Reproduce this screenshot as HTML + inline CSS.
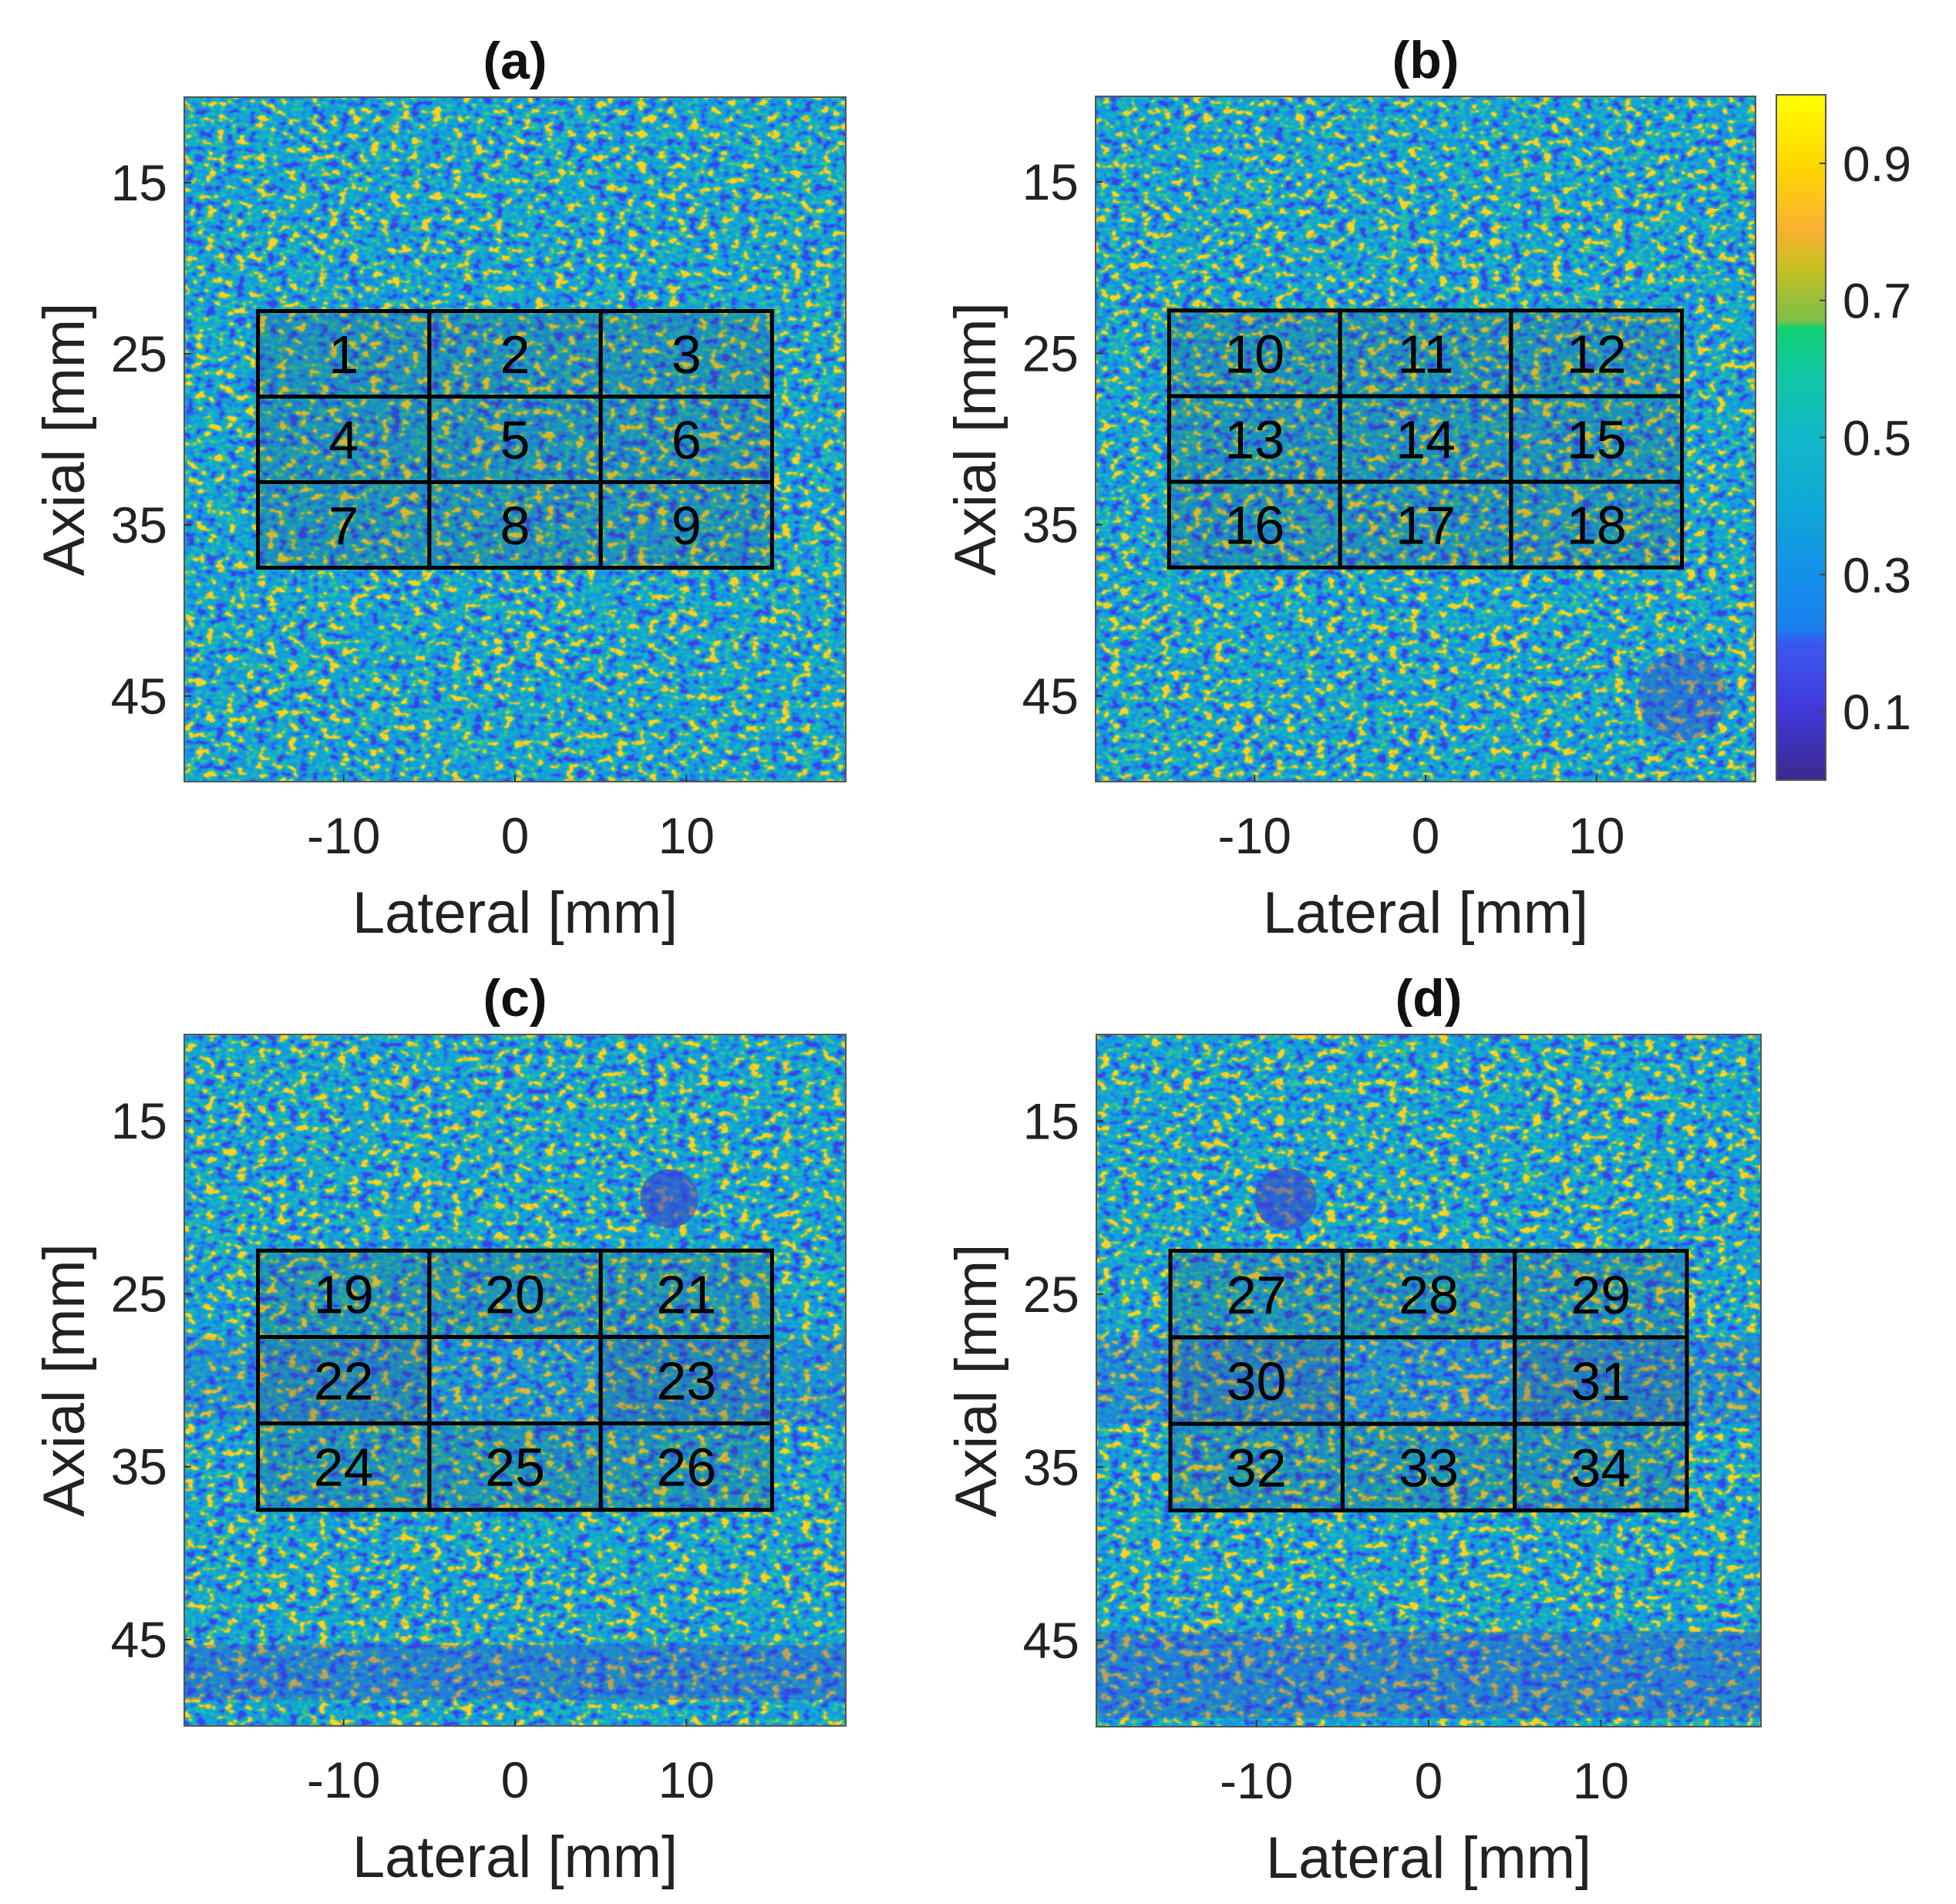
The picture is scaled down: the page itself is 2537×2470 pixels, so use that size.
<!DOCTYPE html>
<html><head><meta charset="utf-8"><style>
html,body{margin:0;padding:0;background:#fff;}
svg{display:block;font-family:"Liberation Sans",Arial,sans-serif;}
</style></head><body>
<svg id="fig" width="2537" height="2470" viewBox="0 0 2537 2470" xmlns="http://www.w3.org/2000/svg">
<defs id="defs">
<linearGradient id="cbgrad" x1="0" y1="1" x2="0" y2="0">
<stop offset="0" stop-color="#3a2a8e"/><stop offset="0.1" stop-color="#4038d8"/><stop offset="0.2" stop-color="#3a58f0"/>
<stop offset="0.22" stop-color="#1a7ff0"/><stop offset="0.3" stop-color="#1490e8"/><stop offset="0.4" stop-color="#10a8d8"/>
<stop offset="0.5" stop-color="#10b8c8"/><stop offset="0.6" stop-color="#10c8a0"/><stop offset="0.66" stop-color="#10d070"/>
<stop offset="0.67" stop-color="#7cc048"/><stop offset="0.75" stop-color="#c8c020"/><stop offset="0.8" stop-color="#f8b030"/>
<stop offset="0.9" stop-color="#ffd800"/><stop offset="1" stop-color="#ffff00"/>
</linearGradient>
</defs>
</svg>
<script>
const xTicks=[-10,0,10];
const yTicks=[15,25,35,45];
const cbTicks=[0.1,0.3,0.5,0.7,0.9];
const panelTitles=['(a)','(b)','(c)','(d)'];
const roiLabels=[[1,2,3,4,5,6,7,8,9],[10,11,12,13,14,15,16,17,18],[19,20,21,22,null,23,24,25,26],[27,28,29,30,null,31,32,33,34]];
const roiX=[-15,-5,5,15];
const roiY=[22.5,27.5,32.5,37.5];
const cystX=[null,15,9,-8.3];
const cystY=[null,45,19.5,19.5];
const cystR=[null,2.6,1.7,1.8];
const bandY0=[[],[],[27.5,45.3],[27.5,44.5]];
const bandY1=[[],[],[32.5,48.5],[32.5,49.5]];
const bandV=[[],[],[0.15,0.32],[0.2,0.32]];
const xRange=[-19.3,19.3], yRange=[10,50];
const rects=[[239,126,858,888],[1421,125,856,889],[239,1342,858,897],[1422,1342,862,898]];
const NS='http://www.w3.org/2000/svg';
const svg=document.getElementById('fig');
const defs=document.getElementById('defs');
function mk(t,a,p){const e=document.createElementNS(NS,t);for(const k in a)e.setAttribute(k,a[k]);(p||svg).appendChild(e);return e;}
const cols=['#3848e0','#3848e0','#3848e0','#3848e0','#3848e0','#3848e0','#2a66ee','#1c86e6','#1a96e0','#139fda','#13b0c8','#22bba8','#45c27e','#e6b83a','#f6d22a','#f6d22a','#f6d22a','#f6d22a','#f6d22a','#f6d22a'];
function ch(i){return cols.map(c=>(parseInt(c.substr(1+2*i,2),16)/255).toFixed(3)).join(' ');}
rects.forEach((r,p)=>{
  const [L,T,W,H]=r;
  const sx=v=>L+(v-xRange[0])/(xRange[1]-xRange[0])*W;
  const sy=v=>T+(v-yRange[0])/(yRange[1]-yRange[0])*H;
  const f=mk('filter',{id:'spk'+p,filterUnits:'userSpaceOnUse',x:L,y:T,width:W,height:H,'color-interpolation-filters':'sRGB'},defs);
  mk('feTurbulence',{type:'fractalNoise',baseFrequency:'0.075 0.1',numOctaves:'2',seed:String(p*7+3)},f);
  mk('feColorMatrix',{type:'matrix',values:'1 0 0 0 0 1 0 0 0 0 1 0 0 0 0 0 0 0 0 1'},f);
  const ct=mk('feComponentTransfer',{},f);
  mk('feFuncR',{type:'discrete',tableValues:ch(0)},ct);
  mk('feFuncG',{type:'discrete',tableValues:ch(1)},ct);
  mk('feFuncB',{type:'discrete',tableValues:ch(2)},ct);
  const g=mk('g',{});
  
  
  const img=mk('rect',{x:L,y:T,width:W,height:H,fill:'#1ca0d8',filter:'url(#spk'+p+')'},g);
  
  
  bandY0[p].forEach((y0,i)=>{
    const b=mk('rect',{x:L,y:sy(y0),width:W,height:sy(bandY1[p][i])-sy(y0),fill:'#3a3fd0',opacity:bandV[p][i]},g);
    
    
  });
  if(cystX[p]!==null){
    const c=mk('ellipse',{cx:sx(cystX[p]),cy:sy(cystY[p]),rx:(sx(cystR[p])-sx(0)),ry:(sy(cystR[p])-sy(0)),fill:'#3a40d0',opacity:p===1?0.4:0.6},g);
    
    
  }
  const frame=mk('rect',{x:L,y:T,width:W,height:H,fill:'none',stroke:'#555',"stroke-width":2},g);
  
  
  let k=0;
  for(let r2=0;r2<3;r2++)for(let c2=0;c2<3;c2++){
    const x0=sx(roiX[c2]),x1=sx(roiX[c2+1]),y0=sy(roiY[r2]),y1=sy(roiY[r2+1]);
    const lab=roiLabels[p][k++];
    const cell=mk('rect',{x:x0,y:y0,width:x1-x0,height:y1-y0,fill:lab===null?'none':'#404060','fill-opacity':0.18,stroke:'#000','stroke-width':5},g);
    
    
    if(lab!==null){
      const t=mk('text',{x:(x0+x1)/2,y:(y0+y1)/2+25,'text-anchor':'middle','font-size':70,fill:'#000'},g);
      t.textContent=lab;
      
      
    }
  }
  xTicks.forEach(v=>{
    const t=mk('text',{x:sx(v),y:T+H+93,'text-anchor':'middle','font-size':66,fill:'#222'},g);
    t.textContent=v;
    
    
    const tk=mk('line',{x1:sx(v),x2:sx(v),y1:T+H,y2:T+H-9,stroke:'#333','stroke-width':2},g);
    
    
  });
  yTicks.forEach(v=>{
    const t=mk('text',{x:L-22,y:sy(v)+23,'text-anchor':'end','font-size':66,fill:'#222'},g);
    t.textContent=v;
    
    
    const tk=mk('line',{x1:L,x2:L+9,y1:sy(v),y2:sy(v),stroke:'#333','stroke-width':2},g);
    
    
  });
  const xl=mk('text',{x:L+W/2,y:T+H+196,'text-anchor':'middle','font-size':76,fill:'#222'},g);
  xl.textContent='Lateral [mm]';
  
  
  const yl=mk('text',{x:0,y:0,'text-anchor':'middle','font-size':76,fill:'#222',transform:`translate(${L-130},${T+H/2}) rotate(-90)`},g);
  yl.textContent='Axial [mm]';
  
  
  const tt=mk('text',{x:L+W/2,y:T-24,'text-anchor':'middle','font-size':68,'font-weight':'bold',fill:'#111'},g);
  tt.textContent=panelTitles[p];
  
  
});
const cbL=2304,cbT=123,cbW=64,cbH=889;
const cby=v=>cbT+cbH*(1-v);
const cg=mk('g',{});


const cb=mk('rect',{x:cbL,y:cbT,width:cbW,height:cbH,fill:'url(#cbgrad)',stroke:'#555','stroke-width':2},cg);


cbTicks.forEach(v=>{
  const tk=mk('line',{x1:cbL+cbW,x2:cbL+cbW-8,y1:cby(v),y2:cby(v),stroke:'#444','stroke-width':2},cg);
  
  
  const t=mk('text',{x:2390,y:cby(v)+23,'font-size':64,fill:'#222'},cg);
  t.textContent=v.toFixed(1);
  
  
});
</script>
</body></html>
